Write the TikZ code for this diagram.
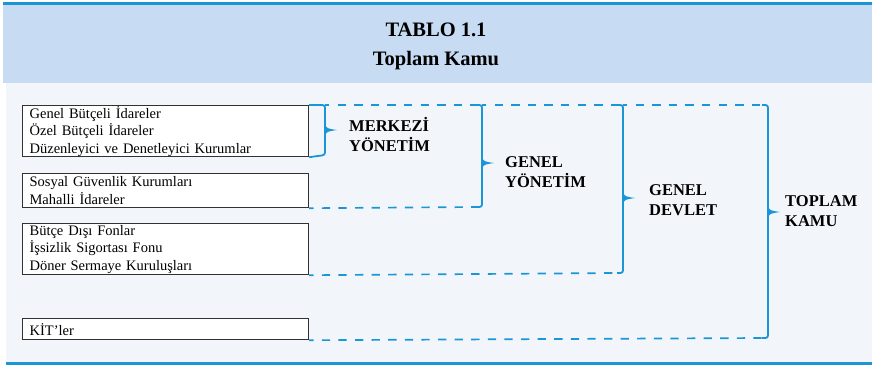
\documentclass[tikz,border=0pt]{standalone}
\usepackage{fontspec}
\setmainfont{Liberation Serif}
\begin{document}
\begin{tikzpicture}[x=1pt,y=-1pt,
  bl/.style={color={rgb,255:red,26;green,150;blue,214}},
  boxnode/.style={draw={rgb,255:red,50;green,50;blue,50},line width=1.2pt,fill=white,anchor=north west,
     inner xsep=7pt,inner ysep=0pt,align=left,
     font=\fontsize{14.5}{17.5}\selectfont},
  lbl/.style={anchor=west,align=left,inner sep=0pt,font=\bfseries\fontsize{16.5}{20}\selectfont},
  brace/.style={bl,draw,line width=1.8pt,rounded corners=2.5pt},
  dashln/.style={bl,draw,line width=1.7pt,dash pattern=on 8.3pt off 8.3pt,dash phase=4pt},
  tipmark/.pic={\fill[bl] (0,-5.5) .. controls (2,-1.5) .. (12,0) .. controls (2,1.5) .. (0,5.5) -- cycle;}
]
\useasboundingbox (0,0) rectangle (872,365);
% background
\fill[white] (0,0) rectangle (872,365);
\fill[color={rgb,255:red,242;green,246;blue,251}] (6,83) rectangle (872,361.5);
\fill[color={rgb,255:red,199;green,220;blue,242}] (3,5) rectangle (872,83);
\fill[bl] (3,2) rectangle (872,5);
\fill[bl] (6,361.5) rectangle (872,365);
% title
\node[align=center,font=\bfseries\fontsize{20.5}{29}\selectfont] (title) at (436,46) {TABLO 1.1\\Toplam Kamu};
% boxes
\node[boxnode,text width=272pt,minimum height=51pt] (b1) at (22,105) {Genel Bütçeli İdareler\\Özel Bütçeli İdareler\\Düzenleyici ve Denetleyici Kurumlar};
\node[boxnode,text width=272pt,minimum height=34pt] (b2) at (22,173) {Sosyal Güvenlik Kurumları\\Mahalli İdareler};
\node[boxnode,text width=272pt,minimum height=51pt] (b3) at (22,223) {Bütçe Dışı Fonlar\\İşsizlik Sigortası Fonu\\Döner Sermaye Kuruluşları};
\node[boxnode,text width=272pt,minimum height=21pt] (b4) at (22,318) {KİT’ler};
% brace coordinates
\coordinate (mt) at (325,105); \coordinate (mb) at (325,155); \coordinate (mtip) at (325,130);
\coordinate (gyt0) at (476,105); \coordinate (gyt) at (482,105); \coordinate (gyb) at (482,207); \coordinate (gyb0) at (476,207); \coordinate (gytip) at (482,163);
\coordinate (gdt0) at (617,105); \coordinate (gdt) at (623,105); \coordinate (gdb) at (623,273); \coordinate (gdb0) at (617,273); \coordinate (gdtip) at (623,198);
\coordinate (tkt0) at (762,105); \coordinate (tkt) at (768,105); \coordinate (tkb) at (768,338); \coordinate (tkb0) at (762,338); \coordinate (tktip) at (768,212);
% braces
\draw[brace] (b1.north east) -- (mt) -- (mb) -- (b1.south east);
\draw[brace] (gyt0) -- (gyt) -- (gyb) -- (gyb0);
\draw[brace] (gdt0) -- (gdt) -- (gdb) -- (gdb0);
\draw[brace] (tkt0) -- (tkt) -- (tkb) -- (tkb0);
\pic at (mtip) {tipmark};
\pic at (gytip) {tipmark};
\pic at (gdtip) {tipmark};
\pic at (tktip) {tipmark};
% dashed connectors
\draw[dashln] (mt) -- (gyt0);
\draw[dashln] (gyt) -- (gdt0);
\draw[dashln] (gdt) -- (tkt0);
\draw[dashln] (b2.south east) -- (gyb0);
\draw[dashln] (b3.south east) -- (gdb0);
\draw[dashln] (b4.south east) -- (tkb0);
% labels
\node[lbl] (lm) at (349,135) {MERKEZİ\\YÖNETİM};
\node[lbl] (lgy) at (505,172) {GENEL\\YÖNETİM};
\node[lbl] (lgd) at (649,200) {GENEL\\DEVLET};
\node[lbl] (ltk) at (785,211) {TOPLAM\\KAMU};
\end{tikzpicture}
\end{document}
